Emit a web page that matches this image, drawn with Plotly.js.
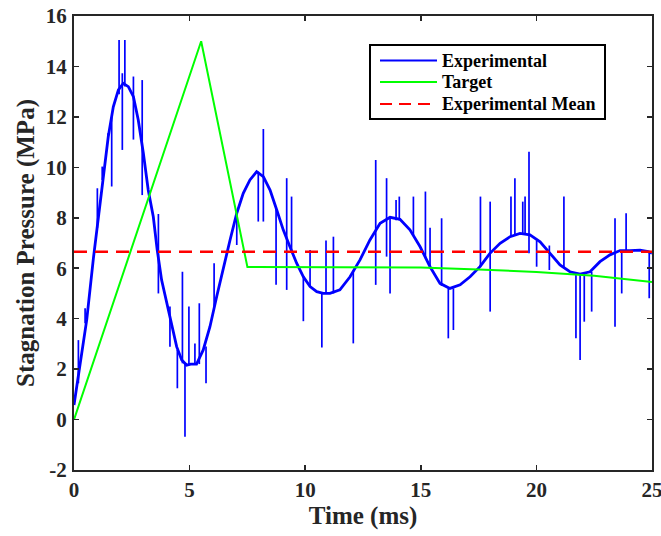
<!DOCTYPE html>
<html>
<head>
<meta charset="utf-8">
<script src="https://cdn.plot.ly/plotly-3.0.1.min.js"></script>
<style>html,body{margin:0;padding:0;background:#fff;overflow:hidden;}#chart{width:661px;height:536px;}</style>
</head>
<body>
<div id="chart"></div>
<script>
// Experimental (smoothed trace)
const expTime = [0, 0.26, 0.55, 0.84, 1.05, 1.27, 1.48, 1.70, 1.92, 2.13, 2.35, 2.57, 2.78, 3.0, 3.21, 3.43, 3.6, 3.79, 4.01, 4.22, 4.44, 4.66, 4.87, 5.05, 5.3, 5.59, 5.88, 6.17, 6.46, 6.75, 7.04, 7.32, 7.61, 7.9, 8.19, 8.48, 8.77, 9.05, 9.34, 9.63, 9.92, 10.21, 10.5, 10.78, 11.07, 11.5, 11.94, 12.37, 12.8, 13.24, 13.67, 14.1, 14.53, 14.97, 15.4, 15.83, 16.26, 16.7, 17.13, 17.56, 17.99, 18.43, 18.86, 19.29, 19.72, 20.16, 20.59, 21.02, 21.45, 21.89, 22.32, 22.75, 23.18, 23.62, 24.05, 24.48, 24.84, 25.0];
const expValue = [0.58, 2.23, 3.95, 6.4, 8.04, 9.76, 11.2, 12.4, 13.07, 13.33, 13.2, 12.8, 11.88, 10.56, 9.1, 8.04, 6.72, 5.53, 4.61, 3.68, 2.89, 2.36, 2.16, 2.2, 2.2, 2.76, 3.68, 4.87, 6.06, 7.12, 8.18, 8.97, 9.5, 9.83, 9.63, 9.1, 8.31, 7.52, 6.85, 6.2, 5.66, 5.27, 5.07, 5.0, 5.0, 5.14, 5.66, 6.33, 7.12, 7.78, 8.02, 7.94, 7.52, 6.85, 6.06, 5.4, 5.2, 5.34, 5.66, 6.06, 6.59, 6.99, 7.25, 7.38, 7.32, 7.05, 6.59, 6.13, 5.86, 5.77, 5.86, 6.26, 6.53, 6.7, 6.7, 6.72, 6.66, 6.6];

// Experimental spikes (time, low end, high end)
const spikeTime = [0.19, 0.48, 1.01, 1.22, 1.47, 1.63, 1.95, 2.09, 2.2, 2.57, 2.95, 3.65, 4.15, 4.47, 4.69, 4.8, 4.97, 5.23, 5.42, 5.71, 6.06, 7.04, 7.97, 8.19, 8.74, 9.2, 9.41, 9.92, 10.21, 10.72, 10.9, 11.22, 12.08, 13.05, 13.52, 13.67, 13.93, 14.07, 14.68, 15.2, 15.4, 15.9, 16.19, 16.41, 17.58, 18.0, 18.9, 19.07, 19.41, 19.51, 19.68, 20.01, 20.56, 21.19, 21.71, 21.89, 22.07, 22.39, 23.4, 23.69, 23.88, 24.88];
const spikeLow  = [1.44, 3.82, 7.6, 9.5, 11.0, 9.24, 12.9, 10.69, 13.2, 11.1, 8.9, 5.0, 2.89, 1.24, 2.23, -0.68, 2.2, 2.2, 2.2, 1.44, 4.34, 6.92, 7.85, 7.85, 5.34, 5.14, 6.6, 3.9, 5.27, 2.86, 5.0, 5.0, 3.02, 5.34, 6.46, 5.0, 7.9, 7.9, 7.3, 6.4, 6.06, 5.3, 3.22, 3.55, 6.06, 4.28, 7.25, 7.3, 7.38, 7.38, 6.59, 6.06, 5.93, 6.0, 3.22, 2.36, 3.88, 4.28, 3.68, 5.0, 6.7, 4.81];
const spikeHigh = [3.15, 4.41, 9.17, 10.03, 11.35, 12.0, 15.05, 13.73, 15.05, 13.6, 13.46, 8.15, 4.48, 2.76, 5.86, 2.2, 4.48, 3.02, 4.61, 2.9, 6.2, 8.18, 9.83, 11.52, 8.4, 9.57, 8.84, 5.66, 6.72, 5.0, 7.1, 7.25, 5.9, 10.29, 9.57, 8.02, 8.7, 8.84, 8.84, 9.04, 7.6, 7.98, 5.2, 5.2, 8.84, 8.64, 8.84, 9.57, 8.64, 8.84, 10.62, 7.1, 6.9, 8.84, 5.8, 5.77, 5.8, 5.86, 7.98, 6.7, 8.18, 6.66];

// Target profile
const targetTime  = [0, 5.5, 7.5, 10, 12.5, 15, 17.5, 20, 22.5, 25];
const targetValue = [0, 15.0, 6.05, 6.05, 6.05, 6.03, 5.95, 5.85, 5.7, 5.45];

// Experimental mean
const meanValue = 6.65;
const timeRange = [0, 25];

const xTicks = [0, 5, 10, 15, 20, 25];
const yTicks = [-2, 0, 2, 4, 6, 8, 10, 12, 14, 16];

const seriesNames = ['Experimental', 'Target', 'Experimental Mean'];
const seriesColors = ['#0000FF', '#00FF00', '#FF0000'];
const seriesDash = ['solid', 'solid', '13px,8px'];

const spikeX = [], spikeY = [];
spikeTime.forEach((t, i) => { spikeX.push(t, t, null); spikeY.push(spikeLow[i], spikeHigh[i], null); });

const FONT = "'Liberation Serif', 'Times New Roman', serif";
const INK = '#262626';

const traces = [
  {x: expTime, y: expValue, mode: 'lines', name: seriesNames[0], legendgroup: 'exp',
   line: {color: seriesColors[0], width: 2.8}},
  {x: spikeX, y: spikeY, mode: 'lines', name: seriesNames[0] + ' spikes', legendgroup: 'exp',
   line: {color: seriesColors[0], width: 1.7}, connectgaps: false},
  {x: targetTime, y: targetValue, mode: 'lines', name: seriesNames[1],
   line: {color: seriesColors[1], width: 2}},
  {x: timeRange, y: [meanValue, meanValue], mode: 'lines', name: seriesNames[2],
   line: {color: seriesColors[2], width: 2.5, dash: seriesDash[2]}}
];

// Plot area in pixels: left 74, right 652, top 16, bottom 470
const PX = {l: 74, r: 652, t: 16, b: 470};
const px2x = p => (p - PX.l) / (PX.r - PX.l);
const px2y = p => (PX.b - p) / (PX.b - PX.t);

// Legend box (MATLAB style), drawn in paper coordinates
const legBox = {x0: 370, x1: 605, y0: 45, y1: 119};
const legRows = [60.5, 82, 104];
const shapes = [{
  type: 'rect', xref: 'paper', yref: 'paper',
  x0: px2x(legBox.x0), x1: px2x(legBox.x1), y0: px2y(legBox.y1), y1: px2y(legBox.y0),
  line: {color: '#000', width: 2}, fillcolor: '#fff', layer: 'above'
}];
const annotations = [];
seriesNames.forEach((name, i) => {
  shapes.push({
    type: 'line', xref: 'paper', yref: 'paper',
    x0: px2x(380), x1: px2x(437), y0: px2y(legRows[i]), y1: px2y(legRows[i]),
    line: {color: seriesColors[i], width: 2, dash: i === 2 ? '12px,7px' : 'solid'}, layer: 'above'
  });
  annotations.push({
    xref: 'paper', yref: 'paper', x: px2x(440), y: px2y(legRows[i]),
    xanchor: 'left', yanchor: 'middle', showarrow: false,
    text: '<b>' + name + '</b>',
    font: {family: FONT, size: 18, color: '#000'}
  });
});

const axisCommon = {
  showline: true, linecolor: INK, linewidth: 2, mirror: 'ticks',
  ticks: 'inside', ticklen: 5, tickwidth: 1.5, tickcolor: INK,
  showgrid: false, zeroline: false,
  tickfont: {family: FONT, size: 21, color: INK, weight: 'bold'}
};

const layout = {
  width: 661, height: 536,
  margin: {l: PX.l, r: 661 - PX.r, t: PX.t, b: 536 - PX.b},
  paper_bgcolor: '#fff', plot_bgcolor: '#fff',
  font: {family: FONT, color: INK},
  showlegend: false,
  xaxis: Object.assign({}, axisCommon, {
    range: [0, 25], tickvals: xTicks, ticktext: xTicks.map(String),
    ticklabeloverflow: 'allow',
    title: {text: '<b>Time (ms)</b>', font: {family: FONT, size: 25, color: INK}, standoff: 4}
  }),
  yaxis: Object.assign({}, axisCommon, {
    range: [-2, 16], tickvals: yTicks, ticktext: yTicks.map(String),
    ticklabelstandoff: 1,
    title: {text: '<b>Stagnation Pressure (MPa)</b>', font: {family: FONT, size: 25, color: INK}, standoff: 4}
  }),
  shapes: shapes,
  annotations: annotations
};

Plotly.newPlot('chart', traces, layout, {displayModeBar: false, staticPlot: true});
</script>
</body>
</html>
